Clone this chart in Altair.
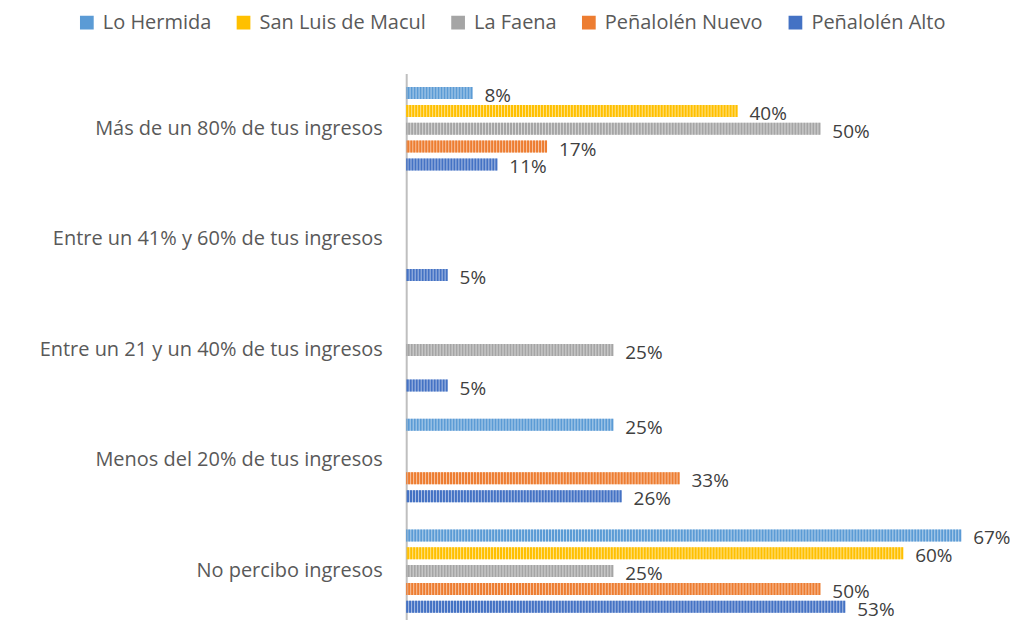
import altair as alt
import pandas as pd

categories = [
    "Más de un 80% de tus ingresos",
    "Entre un 41% y 60% de tus ingresos",
    "Entre un 21 y un 40% de tus ingresos",
    "Menos del 20% de tus ingresos",
    "No percibo ingresos",
]
series = ["Lo Hermida", "San Luis de Macul", "La Faena", "Peñalolén Nuevo", "Peñalolén Alto"]
colors = ["#5B9BD5", "#FFC000", "#A5A5A5", "#ED7D31", "#4472C4"]

lo_hermida = [8, None, None, 25, 67]
san_luis = [40, None, None, None, 60]
la_faena = [50, None, 25, None, 25]
penalolen_nuevo = [17, None, None, 33, 50]
penalolen_alto = [11, 5, 5, 26, 53]

values = [lo_hermida, san_luis, la_faena, penalolen_nuevo, penalolen_alto]
rows = []
for s, vals in zip(series, values):
    for c, v in zip(categories, vals):
        if v is not None:
            rows.append({"cat": c, "serie": s, "val": v / 100, "label": f"{v}%"})
df = pd.DataFrame(rows)

FONT = "Open Sans"
TXT = "#595959"

y_enc = alt.Y("cat:N", sort=categories,
              scale=alt.Scale(domain=categories, range=[0, 554], paddingInner=0, paddingOuter=0),
              axis=alt.Axis(title=None, ticks=False, labelPadding=24, labelFont=FONT,
                            labelFontSize=20, labelColor=TXT, labelLimit=400,
                            domainColor="#BFBFBF", domainWidth=2))
yoff = alt.YOffset("serie:N", sort=series,
                   scale=alt.Scale(domain=series, paddingInner=0, paddingOuter=0.6))
x_enc = alt.X("val:Q", scale=alt.Scale(domain=[0, 0.6747]), axis=None)

base = alt.Chart(df)

bars = base.mark_bar(height=12, opacity=0.45).encode(
    x=x_enc, y=y_enc, yOffset=yoff,
    fill=alt.Fill("serie:N", sort=series, scale=alt.Scale(domain=series, range=colors),
                  legend=alt.Legend(title=None, orient="none", legendX=-330, legendY=-61,
                                    direction="horizontal", symbolType="square",
                                    symbolSize=150, symbolOpacity=1, labelFont=FONT,
                                    labelFontSize=20, labelColor=TXT,
                                    columnPadding=22, labelOffset=6, labelLimit=300)),
)

stripes = base.mark_rule(strokeWidth=12, strokeDash=[2, 1]).encode(
    x=x_enc, x2=alt.datum(0), y=y_enc, yOffset=yoff,
    stroke=alt.Stroke("serie:N", sort=series, scale=alt.Scale(domain=series, range=colors),
                      legend=None),
)

labels = base.mark_text(align="left", baseline="middle", dx=12, dy=3, font=FONT,
                        fontSize=19, color="#404040").encode(
    x=x_enc, y=y_enc, yOffset=yoff, text="label:N",
)

chart = alt.layer(bars, stripes, labels).properties(
    width=560, height=530,
    autosize=alt.AutoSizeParams(type="none"),
    padding={"left": 399, "top": 65, "right": 45, "bottom": 17},
).configure_view(stroke=None)

chart.save("out.html", embed_options={"renderer": "svg", "actions": False})
